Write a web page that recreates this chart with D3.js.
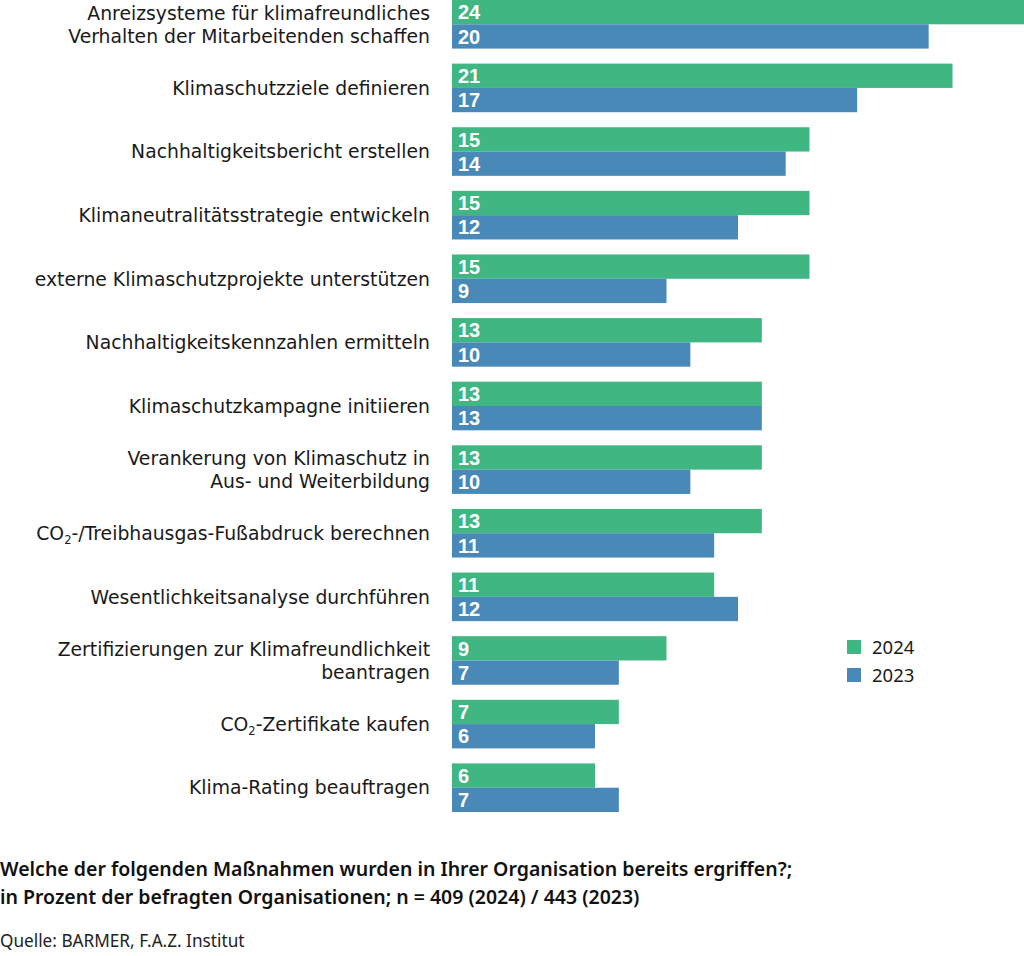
<!DOCTYPE html>
<html><head><meta charset="utf-8">
<script src="https://cdn.jsdelivr.net/npm/d3@7"></script>
<style>
body{margin:0;background:#fff;}
svg{display:block;font-family:"Noto Sans",sans-serif;}
</style></head><body>
<svg id="c" width="1024" height="956"></svg>
<script>
const categories = [
  ["Anreizsysteme für klimafreundliches","Verhalten der Mitarbeitenden schaffen"],
  ["Klimaschutzziele definieren"],
  ["Nachhaltigkeitsbericht erstellen"],
  ["Klimaneutralitätsstrategie entwickeln"],
  ["externe Klimaschutzprojekte unterstützen"],
  ["Nachhaltigkeitskennzahlen ermitteln"],
  ["Klimaschutzkampagne initiieren"],
  ["Verankerung von Klimaschutz in","Aus- und Weiterbildung"],
  ["CO|2|-/Treibhausgas-Fußabdruck berechnen"],
  ["Wesentlichkeitsanalyse durchführen"],
  ["Zertifizierungen zur Klimafreundlichkeit","beantragen"],
  ["CO|2|-Zertifikate kaufen"],
  ["Klima-Rating beauftragen"]
];
const values2024 = [24,21,15,15,15,13,13,13,13,11,9,7,6];
const values2023 = [20,17,14,12,9,10,13,10,11,12,7,6,7];
const seriesNames = ["2024","2023"];
const colors = ["#40b683","#4889b8"];
const title = ["Welche der folgenden Maßnahmen wurden in Ihrer Organisation bereits ergriffen?;","in Prozent der befragten Organisationen; n = 409 (2024) / 443 (2023)"];
const source = "Quelle: BARMER, F.A.Z. Institut";

const svg = d3.select("#c");
const x0 = 452;
const x = d3.scaleLinear().domain([0,24]).range([x0, 1024]);
const y = d3.scaleBand().domain(d3.range(categories.length)).range([0, 812]).paddingInner(0.236).paddingOuter(0);
const sub = d3.scaleBand().domain([0,1]).range([0, y.bandwidth()]);

const g = svg.append("g");
const rows = g.selectAll("g.row").data(categories).join("g").attr("class","row")
  .attr("transform",(d,i)=>`translate(0,${y(i)})`);

[values2024, values2023].forEach((vals, s) => {
  rows.append("rect")
    .attr("x", x0)
    .attr("y", sub(s))
    .attr("width", (d,i)=>x(vals[i]) - x0)
    .attr("height", sub.bandwidth())
    .attr("fill", colors[s]);
  rows.append("text")
    .attr("x", x0 + 6)
    .attr("y", sub(s) + sub.bandwidth()/2)
    .attr("dy", "0.36em")
    .attr("fill", "#fff")
    .attr("font-family", "'Liberation Sans', Arial, sans-serif")
    .attr("font-weight", 700)
    .attr("font-size", 20)
    .text((d,i)=>vals[i]);
});

// category labels
rows.each(function(lines, i){
  const mid = y.bandwidth()/2;
  const lh = 23;
  lines.forEach((ln, k) => {
    const yy = mid + (k - (lines.length-1)/2) * lh;
    const parts = ln.split("|");
    const t = d3.select(this).append("text")
      .attr("x", 430)
      .attr("y", yy)
      .attr("dy","0.36em")
      .attr("text-anchor","end")
      .attr("font-family", "'DejaVu Sans', sans-serif")
      .attr("font-size", 18.8)
      .attr("fill", "#1a1a1a");
    if (parts.length === 1) { t.text(ln); }
    else {
      t.append("tspan").text(parts[0]);
      t.append("tspan").attr("font-size", 11.5).attr("dy", "0.35em").text(parts[1]);
      t.append("tspan").attr("dy", "-0.22em").text(parts[2]);
    }
  });
});

// legend
const leg = svg.append("g").attr("transform","translate(847,640)");
seriesNames.forEach((n, i) => {
  leg.append("rect").attr("x",0).attr("y", i*28).attr("width",14).attr("height",14).attr("fill",colors[i]);
  leg.append("text").attr("x",25).attr("y", i*28+7).attr("dy","0.36em").attr("font-size",18.5).attr("fill","#1a1a1a").text(n);
});

// footer
title.forEach((t,i)=>{
  svg.append("text").attr("x",0).attr("y",869 + i*28).attr("dy","0.35em")
    .attr("font-size",19.5).attr("font-weight",600).attr("fill","#111").text(t);
});
svg.append("text").attr("x",0).attr("y",941).attr("dy","0.35em")
  .attr("font-size",17.2).attr("fill","#222").text(source);
</script>
</body></html>
